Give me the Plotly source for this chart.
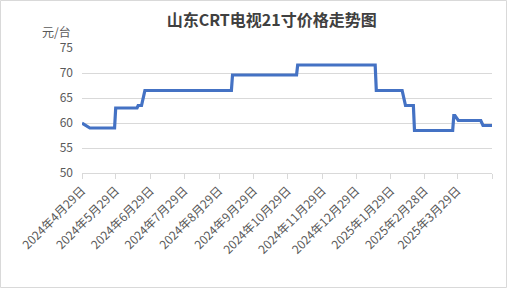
import plotly.graph_objects as go

# Change-point data (price in 元/台)
dates = ["2024-04-29", "2024-05-06", "2024-05-28", "2024-05-29",
         "2024-06-17", "2024-06-18", "2024-06-21", "2024-06-24",
         "2024-09-09", "2024-09-10", "2024-11-06", "2024-11-07",
         "2025-01-15", "2025-01-16", "2025-02-08", "2025-02-11",
         "2025-02-18", "2025-02-19", "2025-03-25", "2025-03-26",
         "2025-03-27", "2025-03-30", "2025-04-19", "2025-04-21",
         "2025-04-29"]
prices = [60, 59, 59, 63,
          63, 63.5, 63.5, 66.5,
          66.5, 69.6, 69.6, 71.6,
          71.6, 66.5, 66.5, 63.5,
          63.5, 58.5, 58.5, 61.5,
          61.5, 60.5, 60.5, 59.5,
          59.5]

tick_dates = ["2024-04-29", "2024-05-29", "2024-06-29", "2024-07-29",
              "2024-08-29", "2024-09-29", "2024-10-29", "2024-11-29",
              "2024-12-29", "2025-01-29", "2025-02-28", "2025-03-29",
              "2025-04-29"]
tick_labels = ["2024年4月29日", "2024年5月29日", "2024年6月29日", "2024年7月29日",
               "2024年8月29日", "2024年9月29日", "2024年10月29日", "2024年11月29日",
               "2024年12月29日", "2025年1月29日", "2025年2月28日", "2025年3月29日",
               ""]

FONT = "Noto Sans CJK SC"
GREY = "#595959"

fig = go.Figure()
fig.add_trace(go.Scatter(x=dates, y=prices, mode="lines",
                         line=dict(color="#4472C4", width=3.2),
                         hoverinfo="x+y"))

W, H = 508, 289
L, R, T, B = 82, 16, 48, 116
fig.update_layout(
    width=W, height=H,
    margin=dict(l=L, r=R, t=T, b=B),
    paper_bgcolor="white", plot_bgcolor="white",
    showlegend=False,
    font=dict(family=FONT, color=GREY, size=12),
    title=dict(text="<b>山东CRT电视21寸价格走势图</b>",
               x=235 / W, xanchor="center", xref="paper",
               y=1 - 20 / H, yanchor="middle", yref="container",
               font=dict(family=FONT, size=16, color="#404040")),
    xaxis=dict(type="date", range=["2024-04-29", "2025-04-29"],
               tickmode="array", tickvals=tick_dates, ticktext=tick_labels,
               tickangle=-45, showgrid=False, showline=True,
               linecolor="#d9d9d9", linewidth=1,
               ticks="outside", ticklen=5, tickcolor="#d9d9d9",
               tickfont=dict(size=12, color=GREY, family=FONT),
               zeroline=False),
    yaxis=dict(range=[50, 75], tickmode="array",
               tickvals=[50, 55, 60, 65, 70, 75],
               showgrid=True, gridcolor="#d9d9d9", gridwidth=1,
               showline=False, zeroline=False, ticks="",
               ticklabelstandoff=8,
               tickfont=dict(size=12, color=GREY, family=FONT)),
)

fig.add_annotation(text="元/台", xref="paper", yref="paper",
                   x=-(L - 73) / (W - L - R), y=1 + 16 / (H - T - B),
                   xanchor="right", yanchor="middle", showarrow=False,
                   font=dict(family=FONT, size=12, color=GREY))

# chart-area border
pw, ph = W - L - R, H - T - B
fig.add_shape(type="rect", xref="paper", yref="paper",
              x0=-(L - 0.5) / pw, x1=1 + (R - 1.5) / pw,
              y0=-(B - 1.5) / ph, y1=1 + (T - 0.5) / ph,
              line=dict(color="#d9d9d9", width=1), layer="below")

fig.write_html("out.html")
